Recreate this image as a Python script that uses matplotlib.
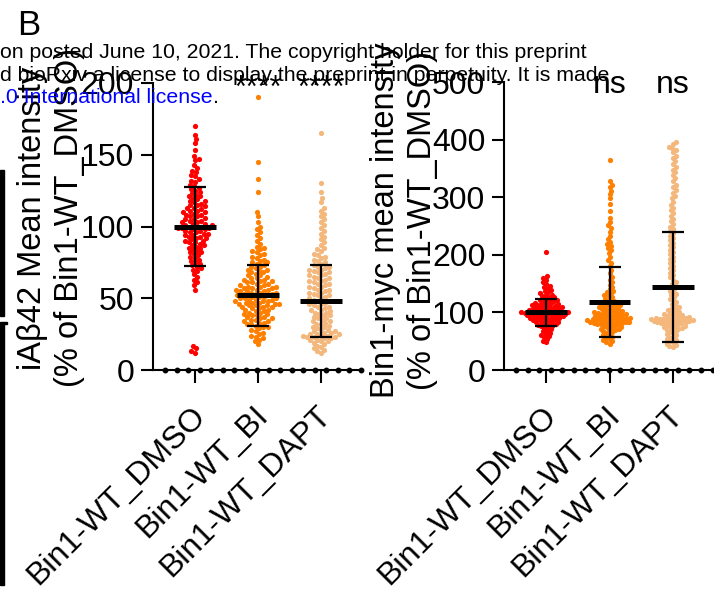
import numpy as np
import matplotlib
matplotlib.use("Agg")
import matplotlib.pyplot as plt
from matplotlib.patches import Rectangle
from matplotlib.transforms import ScaledTranslation

plt.rcParams["font.family"] = ["Liberation Sans", "DejaVu Sans"]

groups = ["Bin1-WT_DMSO", "Bin1-WT_BI", "Bin1-WT_DAPT"]
colors = ["#FF0000", "#FF8000", "#F4B77C"]

# iAbeta42 mean intensity (% of Bin1-WT_DMSO)
abeta_dmso = [170, 164, 161, 158, 153, 149, 147, 146, 143, 141, 139, 138, 136, 135, 133, 132,
              131, 129, 128, 127, 126, 125, 124, 123, 122, 121, 121, 120, 119, 118, 118, 117,
              116, 115, 115, 114, 113, 113, 112, 111, 111, 110, 110, 109, 108, 108, 107, 107,
              106, 105, 105, 104, 104, 103, 103, 102, 102, 101, 101, 100, 100, 100, 99, 99, 99,
              98, 98, 97, 97, 96, 96, 95, 95, 94, 94, 93, 93, 92, 92, 91, 90, 90, 89, 89, 88,
              87, 87, 86, 85, 85, 84, 83, 82, 82, 81, 80, 79, 78, 77, 76, 75, 74, 73, 72, 71,
              70, 69, 67, 65, 63, 61, 59, 56, 17, 15, 13, 12]
abeta_bi = [190, 145, 133, 124, 110, 107, 103, 100, 98, 96, 94, 92, 90, 88, 86, 85, 84, 83, 82,
            81, 80, 79, 78, 77, 76, 75, 75, 74, 73, 72, 72, 71, 70, 70, 69, 68, 68, 67, 66, 66,
            65, 64, 64, 63, 63, 62, 62, 61, 61, 60, 60, 59, 59, 58, 58, 58, 57, 57, 57, 56, 56,
            56, 55, 55, 55, 54, 54, 54, 53, 53, 53, 52, 52, 52, 51, 51, 51, 50, 50, 50, 49, 49,
            49, 48, 48, 48, 47, 47, 47, 46, 46, 46, 45, 45, 45, 44, 44, 44, 43, 43, 42, 42, 41,
            41, 40, 40, 39, 39, 38, 38, 37, 37, 36, 36, 35, 35, 34, 34, 33, 33, 32, 32, 31, 30,
            30, 29, 28, 27, 26, 25, 24, 23, 22, 21, 20, 18]
abeta_dapt = [165, 130, 124, 120, 117, 113, 111, 109, 107, 105, 103, 101, 99, 97, 95, 93, 91,
              89, 87, 85, 84, 83, 81, 80, 79, 78, 77, 76, 75, 74, 73, 72, 72, 71, 70, 70, 69,
              68, 68, 67, 66, 66, 65, 64, 64, 63, 62, 62, 61, 60, 60, 59, 58, 58, 57, 56, 56,
              55, 54, 54, 53, 52, 52, 51, 50, 50, 49, 48, 48, 47, 46, 46, 45, 44, 44, 43, 42,
              42, 41, 40, 40, 39, 38, 38, 37, 36, 36, 35, 34, 34, 33, 32, 32, 31, 30, 30, 29,
              28, 28, 27, 27, 26, 26, 25, 25, 25, 24, 24, 24, 23, 23, 23, 22, 22, 21, 21, 20,
              20, 19, 18, 17, 16, 15, 14, 13, 12]
abeta_mean = [100, 52, 48]
abeta_sd = [27.5, 21, 25]

# Bin1-myc mean intensity (% of Bin1-WT_DMSO)
myc_dmso = [205, 163, 160, 156, 152, 149, 146, 144, 141, 139, 137, 135, 133, 131, 130, 128, 127,
            126, 124, 123, 122, 121, 120, 119, 118, 117, 116, 115, 114, 114, 113, 112, 111, 111,
            110, 109, 109, 108, 107, 107, 106, 105, 105, 104, 104, 103, 102, 102, 101, 101, 100,
            100, 100, 99, 99, 98, 98, 97, 97, 96, 96, 95, 95, 94, 93, 93, 92, 92, 91, 90, 90, 89,
            88, 88, 87, 86, 85, 84, 84, 83, 82, 81, 80, 79, 78, 77, 76, 75, 73, 71, 69, 67, 65,
            63, 61, 59, 57, 54, 51, 48]
myc_bi = [365, 328, 322, 317, 311, 305, 298, 288, 276, 264, 257, 251, 246, 240, 233, 227, 222,
          218, 215, 212, 208, 203, 197, 191, 186, 180, 174, 168, 162, 157, 152, 148, 144, 140,
          137, 135, 133, 130, 128, 126, 124, 122, 120, 118, 116, 115, 114, 113, 112, 111, 110,
          109, 108, 107, 106, 105, 104, 103, 102, 101, 100, 100, 99, 99, 98, 97, 97, 96, 95, 95,
          94, 93, 93, 92, 91, 91, 90, 90, 89, 89, 88, 88, 87, 87, 86, 86, 85, 85, 84, 84, 83,
          83, 82, 82, 81, 81, 80, 80, 79, 78, 77, 76, 75, 74, 73, 72, 71, 70, 69, 68, 66, 64,
          62, 60, 58, 56, 54, 52, 50, 48, 46]
myc_dapt = [395, 392, 388, 385, 382, 378, 372, 368, 362, 357, 352, 348, 343, 338, 333, 328, 322,
            318, 312, 308, 302, 298, 292, 287, 282, 277, 272, 268, 263, 258, 253, 249, 245, 241,
            237, 233, 229, 225, 221, 217, 213, 209, 205, 201, 197, 193, 189, 185, 181, 177, 173,
            169, 165, 161, 157, 153, 150, 147, 144, 141, 138, 135, 132, 130, 127, 124, 121, 118,
            115, 112, 110, 108, 106, 104, 102, 100, 99, 98, 97, 96, 95, 94, 93, 92, 91, 91, 90,
            90, 89, 89, 88, 88, 87, 87, 86, 86, 85, 85, 84, 84, 83, 83, 82, 82, 81, 80, 79, 78,
            77, 76, 75, 74, 73, 72, 71, 70, 68, 66, 64, 62, 60, 58, 56, 54, 52, 50, 48, 46, 44,
            42, 40]
myc_mean = [100, 117.5, 144]
myc_sd = [23, 60.5, 96]


def swarm(vals, d):
    # simple beeswarm in pixel space: returns x offsets (px) for y positions (px)
    y = np.asarray(vals, float)
    xs = np.zeros(len(y))
    placed = []
    for n, i in enumerate(np.argsort(y)):
        near = [(xs[j], y[j]) for j in placed if abs(y[j] - y[i]) < d]
        cands = [0.0]
        for xj, yj in near:
            dx = np.sqrt(d * d - (yj - y[i]) ** 2)
            cands += [xj + dx, xj - dx]
        sign = 1 if n % 2 else -1
        cands.sort(key=lambda c: (round(abs(c), 6), sign * c))
        for c in cands:
            if all((c - xj) ** 2 + (y[i] - yj) ** 2 >= d * d - 1e-6 for xj, yj in near):
                xs[i] = c
                break
        placed.append(i)
    return xs


def draw_panel(ax, data, means, sds, ymax, ystep, marks, mark_y, mark_size, gap):
    ax.set_xlim(-0.667, 2.65)
    ax.set_ylim(0, ymax)
    for s in ["top", "right"]:
        ax.spines[s].set_visible(False)
    for s in ["left", "bottom"]:
        ax.spines[s].set_linewidth(1.5)
    ax.set_yticks(np.arange(0, ymax + 1, ystep))
    ax.tick_params(axis="y", length=8.5, width=1.5, labelsize=23, pad=5)
    ax.tick_params(axis="x", length=9, width=1.5, labelsize=23, pad=13)
    ax.set_xticks(range(len(groups)))
    ax.set_xticklabels(groups, rotation=45, ha="right", va="top", rotation_mode="anchor")
    for lab in ax.get_xticklabels():
        lab.set_transform(lab.get_transform() + ScaledTranslation(-5 / 100, 0, ax.figure.dpi_scale_trans))

    p0 = ax.transData.transform([[0, 0], [1, 1]])
    px_x, px_y = p0[1] - p0[0]
    for i, vals in enumerate(data):
        off = swarm(np.array(vals) * px_y, gap)
        ax.scatter(i + off / px_x, vals, s=14, color=colors[i], linewidths=0, zorder=2, clip_on=False)
        ax.errorbar(i, means[i], yerr=sds[i], fmt="none", ecolor="black", elinewidth=1.6,
                    capsize=8, capthick=1.6, zorder=3)
        ax.hlines(means[i], i - 0.33, i + 0.33, color="black", lw=3.6, zorder=4)

    # dotted x axis
    dots = np.arange(-0.476, 2.66, 0.1825)
    ax.plot(dots, np.zeros_like(dots), "o", ms=3.2, color="black", clip_on=False, zorder=5)

    for i, m in enumerate(marks):
        if m:
            ax.text(i, mark_y, m, ha="center", va="baseline", fontsize=mark_size, clip_on=False)


fig = plt.figure(figsize=(7.14, 5.89), dpi=100)
ax1 = fig.add_axes([153 / 714, 1 - 370 / 589, 209 / 714, 287 / 589])
ax2 = fig.add_axes([504 / 714, 1 - 370 / 589, 210 / 714, 288 / 589])

draw_panel(ax1, [abeta_dmso, abeta_bi, abeta_dapt], abeta_mean, abeta_sd, 200, 50,
           ["", "****", "****"], 190, 22, 4.4)
draw_panel(ax2, [myc_dmso, myc_bi, myc_dapt], myc_mean, myc_sd, 500, 100,
           ["", "ns", "ns"], 481, 23, 3.6)

fig.text(51 / 714, 1 - 218 / 589, "iAβ42 Mean intensity\n(% of Bin1-WT_DMSO)",
         rotation=90, ha="center", va="center", fontsize=23.5, linespacing=1.28)
fig.text(404 / 714, 1 - 220 / 589, "Bin1-myc mean intensity\n(% of Bin1-WT_DMSO)",
         rotation=90, ha="center", va="center", fontsize=23.5, linespacing=1.28)

fig.text(17 / 714, 1 - 35 / 589, "B", fontsize=25, va="baseline")

# bioRxiv watermark lines over the figure
fig.text(0, 1 - 58 / 589, "on posted June 10, 2021. The copyright holder for this preprint",
         fontsize=15.3, va="baseline", zorder=10)
fig.text(0, 1 - 81 / 589, "d bioRxiv a license to display the preprint in perpetuity. It is made",
         fontsize=15.3, va="baseline", zorder=10)
lic = fig.text(0, 1 - 103 / 589, ".0 International license", fontsize=15.3, va="baseline",
               color="#0000FF", zorder=10)
bb = lic.get_window_extent(fig.canvas.get_renderer())
fig.text(bb.x1 / fig.bbox.width, 1 - 103 / 589, ".", fontsize=15.3, va="baseline", zorder=10)

# page border bar at the left edge
fig.patches.append(Rectangle((0, 1 - 316 / 589), 4 / 714, 146 / 589, transform=fig.transFigure,
                             color="black", figure=fig))
fig.patches.append(Rectangle((0, 1 - 585 / 589), 4 / 714, 261 / 589, transform=fig.transFigure,
                             color="black", figure=fig))
fig.patches.append(Rectangle((0, 1 - 324 / 589), 7 / 714, 2 / 589, transform=fig.transFigure,
                             color="black", figure=fig))

fig.savefig("out.png", dpi=100)
